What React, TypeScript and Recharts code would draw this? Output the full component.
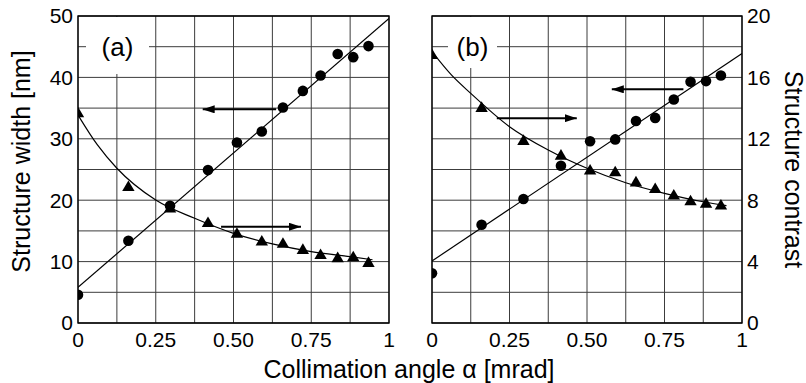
import React from 'react';
import {
  ComposedChart,
  Line,
  Scatter,
  XAxis,
  YAxis,
  CartesianGrid,
  ReferenceLine,
  ReferenceArea,
} from 'recharts';

const FONT = '"Liberation Sans", Arial, Helvetica, sans-serif';

// ---- ticks ----
const xTicks = [0, 0.125, 0.25, 0.375, 0.5, 0.625, 0.75, 0.875, 1];
const xTickLabelValues = [0, 0.25, 0.5, 0.75, 1];
const xTickLabelTexts = ['0', '0.25', '0.50', '0.75', '1'];
const widthTicks = [0, 5, 10, 15, 20, 25, 30, 35, 40, 45, 50];
const widthTickLabels = [0, 10, 20, 30, 40, 50];
const contrastTicks = [0, 2, 4, 6, 8, 10, 12, 14, 16, 18, 20];
const contrastTickLabels = [0, 4, 8, 12, 16, 20];

// ---- panel (a) measurements ----
const anglesA = [0, 0.162, 0.296, 0.418, 0.511, 0.591, 0.659, 0.723, 0.78, 0.835, 0.885, 0.934];
const widthA = [4.6, 13.4, 19.1, 24.9, 29.4, 31.2, 35.1, 37.8, 40.3, 43.8, 43.3, 45.1];
const contrastA = [13.7, 8.9, 7.5, 6.55, 5.85, 5.35, 5.2, 4.8, 4.47, 4.26, 4.32, 3.95];

// ---- panel (b) measurements ----
const anglesB = [0, 0.16, 0.295, 0.416, 0.51, 0.591, 0.658, 0.72, 0.78, 0.834, 0.884, 0.932];
const widthB = [8.1, 16.0, 20.2, 25.6, 29.6, 29.9, 32.9, 33.4, 36.4, 39.3, 39.4, 40.3];
const contrastB = [17.5, 14.05, 11.9, 10.94, 9.97, 9.86, 9.2, 8.77, 8.34, 7.97, 7.8, 7.69];

// ---- fitted lines / curves ----
const fitLineAX = [0, 1];
const fitLineAY = [5.8, 49.6];
const fitLineBX = [0, 1];
const fitLineBY = [10.1, 43.9];
const fitCurveAX = [0, 0.0625, 0.125, 0.25, 0.375, 0.5, 0.625, 0.75, 0.875, 0.947];
const fitCurveAY = [13.55, 11.6, 10.08, 8.01, 6.82, 5.84, 5.15, 4.65, 4.32, 4.12];
const fitCurveBX = [0, 0.0625, 0.125, 0.25, 0.375, 0.5, 0.625, 0.75, 0.875, 0.95];
const fitCurveBY = [17.68, 16.16, 14.96, 12.79, 11.27, 10.08, 9.14, 8.45, 7.9, 7.65];

// ---- arrows (from -> to, in data units) ----
const arrowAWidth = { from: 0.637, to: 0.401, y: 34.8 };
const arrowAContrast = { from: 0.46, to: 0.717, y: 6.27 };
const arrowBWidth = { from: 0.811, to: 0.58, y: 38.06 };
const arrowBContrast = { from: 0.209, to: 0.467, y: 13.34 };

const zip = (xs: number[], ys: number[]) => xs.map((x, i) => ({ x, y: ys[i] }));

const xFmt = (v: number) => {
  const i = xTickLabelValues.findIndex((t) => Math.abs(t - v) < 1e-9);
  return i >= 0 ? xTickLabelTexts[i] : '';
};
const wFmt = (v: number) => (widthTickLabels.includes(v) ? String(v) : '');
const cFmt = (v: number) => (contrastTickLabels.includes(v) ? String(v) : '');

const tickStyle = { fontSize: 21, fill: '#000', fontFamily: FONT };

const CircleDot = (p: any) => <circle cx={p.cx} cy={p.cy} r={5.3} fill="#000" />;
const TriDot = (p: any) => (
  <polygon
    points={`${p.cx},${p.cy - 6} ${p.cx - 6.2},${p.cy + 4.6} ${p.cx + 6.2},${p.cy + 4.6}`}
    fill="#000"
  />
);

const ArrowDefs = ({ id }: { id: string }) => (
  <defs>
    <marker
      id={id}
      viewBox="0 0 12 8"
      refX={12}
      refY={4}
      markerWidth={12}
      markerHeight={8}
      markerUnits="userSpaceOnUse"
      orient="auto"
    >
      <path d="M0,0 L12,4 L0,8 Z" fill="#000" />
    </marker>
  </defs>
);

const GRID = '#3c3c3c';

function PanelA() {
  return (
    <ComposedChart width={420} height={383} margin={{ top: 16, right: 31, bottom: 30, left: 0 }}>
      <ArrowDefs id="arrA" />
      <CartesianGrid yAxisId="w" stroke={GRID} strokeWidth={1} />
      <XAxis
        dataKey="x"
        type="number"
        domain={[0, 1]}
        ticks={xTicks}
        interval={0}
        tickFormatter={xFmt}
        allowDataOverflow
        tickLine={false}
        axisLine={false}
        tickSize={0}
        tickMargin={9}
        height={30}
        tick={tickStyle}
      />
      <YAxis
        yAxisId="w"
        type="number"
        domain={[0, 50]}
        ticks={widthTicks}
        interval={0}
        tickFormatter={wFmt}
        allowDataOverflow
        tickLine={false}
        axisLine={false}
        tickSize={0}
        tickMargin={5}
        width={78}
        tick={tickStyle}
        label={{
          content: (p: any) => {
            const vb = p.viewBox;
            const cx = vb.x + 21;
            const cy = vb.y + vb.height / 2 - 8;
            return (
              <text
                x={cx}
                y={cy}
                transform={`rotate(-90 ${cx} ${cy})`}
                textAnchor="middle"
                dominantBaseline="central"
                fontSize={25}
                fontFamily={FONT}
                fill="#000"
              >
                Structure width [nm]
              </text>
            );
          },
        }}
      />
      <YAxis yAxisId="c" orientation="right" type="number" domain={[0, 20]} allowDataOverflow hide />
      <ReferenceArea
        yAxisId="w"
        x1={0}
        x2={1}
        y1={0}
        y2={50}
        fill="none"
        fillOpacity={0}
        stroke="#000"
        strokeWidth={1.3}
      />
      <Line
        yAxisId="w"
        data={zip(fitLineAX, fitLineAY)}
        dataKey="y"
        type="linear"
        stroke="#000"
        strokeWidth={1.2}
        dot={false}
        isAnimationActive={false}
      />
      <Line
        yAxisId="c"
        data={zip(fitCurveAX, fitCurveAY)}
        dataKey="y"
        type="monotone"
        stroke="#000"
        strokeWidth={1.2}
        dot={false}
        isAnimationActive={false}
      />
      <Scatter yAxisId="w" data={zip(anglesA, widthA)} dataKey="y" shape={CircleDot} isAnimationActive={false} />
      <Scatter yAxisId="c" data={zip(anglesA, contrastA)} dataKey="y" shape={TriDot} isAnimationActive={false} />
      <ReferenceLine
        yAxisId="w"
        segment={[
          { x: arrowAWidth.from, y: arrowAWidth.y },
          { x: arrowAWidth.to, y: arrowAWidth.y },
        ]}
        stroke="#000"
        strokeWidth={2}
        markerEnd="url(#arrA)"
      />
      <ReferenceLine
        yAxisId="c"
        segment={[
          { x: arrowAContrast.from, y: arrowAContrast.y },
          { x: arrowAContrast.to, y: arrowAContrast.y },
        ]}
        stroke="#000"
        strokeWidth={2}
        markerEnd="url(#arrA)"
      />
    </ComposedChart>
  );
}

function PanelB() {
  return (
    <ComposedChart width={386} height={383} margin={{ top: 16, right: 0, bottom: 30, left: 12 }}>
      <ArrowDefs id="arrB" />
      <CartesianGrid yAxisId="c" stroke={GRID} strokeWidth={1} />
      <XAxis
        dataKey="x"
        type="number"
        domain={[0, 1]}
        ticks={xTicks}
        interval={0}
        tickFormatter={xFmt}
        allowDataOverflow
        tickLine={false}
        axisLine={false}
        tickSize={0}
        tickMargin={9}
        height={30}
        tick={tickStyle}
      />
      <YAxis yAxisId="w" type="number" domain={[0, 50]} allowDataOverflow hide />
      <YAxis
        yAxisId="c"
        orientation="right"
        type="number"
        domain={[0, 20]}
        ticks={contrastTicks}
        interval={0}
        tickFormatter={cFmt}
        allowDataOverflow
        tickLine={false}
        axisLine={false}
        tickSize={0}
        tickMargin={5}
        width={64}
        tick={tickStyle}
        label={{
          content: (p: any) => {
            const vb = p.viewBox;
            const cx = vb.x + 51.5;
            const cy = vb.y + vb.height / 2;
            return (
              <text
                x={cx}
                y={cy}
                transform={`rotate(90 ${cx} ${cy})`}
                textAnchor="middle"
                dominantBaseline="central"
                fontSize={25}
                fontFamily={FONT}
                fill="#000"
              >
                Structure contrast
              </text>
            );
          },
        }}
      />
      <ReferenceArea
        yAxisId="c"
        x1={0}
        x2={1}
        y1={0}
        y2={20}
        fill="none"
        fillOpacity={0}
        stroke="#000"
        strokeWidth={1.3}
      />
      <Line
        yAxisId="w"
        data={zip(fitLineBX, fitLineBY)}
        dataKey="y"
        type="linear"
        stroke="#000"
        strokeWidth={1.2}
        dot={false}
        isAnimationActive={false}
      />
      <Line
        yAxisId="c"
        data={zip(fitCurveBX, fitCurveBY)}
        dataKey="y"
        type="monotone"
        stroke="#000"
        strokeWidth={1.2}
        dot={false}
        isAnimationActive={false}
      />
      <Scatter yAxisId="w" data={zip(anglesB, widthB)} dataKey="y" shape={CircleDot} isAnimationActive={false} />
      <Scatter yAxisId="c" data={zip(anglesB, contrastB)} dataKey="y" shape={TriDot} isAnimationActive={false} />
      <ReferenceLine
        yAxisId="w"
        segment={[
          { x: arrowBWidth.from, y: arrowBWidth.y },
          { x: arrowBWidth.to, y: arrowBWidth.y },
        ]}
        stroke="#000"
        strokeWidth={2}
        markerEnd="url(#arrB)"
      />
      <ReferenceLine
        yAxisId="c"
        segment={[
          { x: arrowBContrast.from, y: arrowBContrast.y },
          { x: arrowBContrast.to, y: arrowBContrast.y },
        ]}
        stroke="#000"
        strokeWidth={2}
        markerEnd="url(#arrB)"
      />
    </ComposedChart>
  );
}

export default function App() {
  return (
    <div
      style={{
        position: 'absolute',
        left: 0,
        top: 0,
        width: 806,
        height: 383,
        background: '#fff',
        overflow: 'hidden',
      }}
    >
      <div style={{ position: 'absolute', left: 0, top: 0 }}>
        <PanelA />
      </div>
      <div style={{ position: 'absolute', left: 420, top: 0 }}>
        <PanelB />
      </div>
      <svg
        width={806}
        height={383}
        style={{ position: 'absolute', left: 0, top: 0, pointerEvents: 'none' }}
      >
        <rect x={86} y={17} width={63} height={57} fill="#fff" />
        <text x={117.5} y={56} textAnchor="middle" fontSize={26} fontFamily={FONT} fill="#000">
          (a)
        </text>
        <rect x={448} y={17} width={49} height={51} fill="#fff" />
        <text x={472.5} y={56} textAnchor="middle" fontSize={26} fontFamily={FONT} fill="#000">
          (b)
        </text>
        <text x={409} y={378} textAnchor="middle" fontSize={25} fontFamily={FONT} fill="#000">
          Collimation angle α [mrad]
        </text>
      </svg>
    </div>
  );
}
